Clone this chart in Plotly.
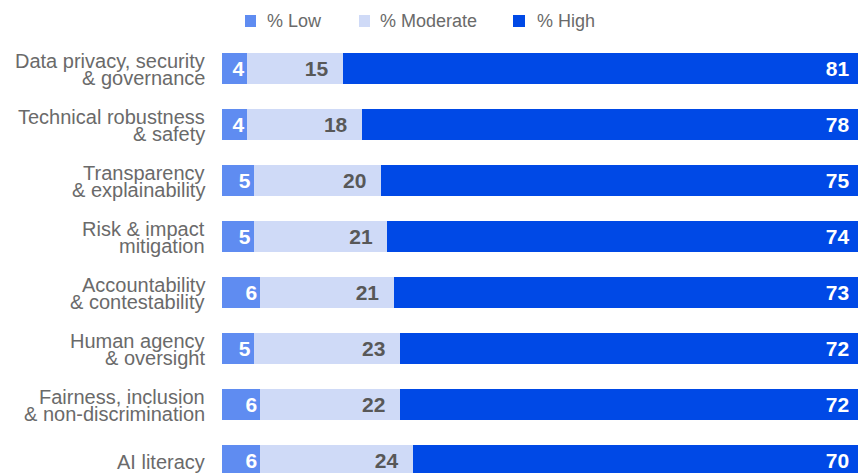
import plotly.graph_objects as go

categories = [
    "Data privacy, security<br>& governance",
    "Technical robustness<br>& safety",
    "Transparency<br>& explainability",
    "Risk & impact<br>mitigation",
    "Accountability<br>& contestability",
    "Human agency<br>& oversight",
    "Fairness, inclusion<br>& non-discrimination",
    "AI literacy",
]
low = [4, 4, 5, 5, 6, 5, 6, 6]
moderate = [15, 18, 20, 21, 21, 23, 22, 24]
high = [81, 78, 75, 74, 73, 72, 72, 70]
series_names = ["% Low", "% Moderate", "% High"]
colors = ["#5f8cf1", "#cfdaf7", "#0049e6"]
text_colors = ["white", "#585858", "white"]

W, H = 858, 473
ML, MR, MT, MB = 222, 0, 40, 0
pitch = 56.0
plot_w = W - ML - MR
plot_h = H - MT - MB


def px_x(px):
    return (px - ML) / plot_w


def px_y(py):
    return 1 - (py - MT) / plot_h


fig = go.Figure()
templates = ["%{x}", "%{x}  ", "%{x} "]
for name, vals, col, tcol, tpl in zip(series_names, [low, moderate, high], colors, text_colors, templates):
    fig.add_trace(go.Bar(
        y=list(range(len(categories))), x=vals, name=name, orientation="h",
        marker=dict(color=col, line=dict(width=0)),
        texttemplate=tpl, textposition="inside", insidetextanchor="end",
        textangle=0, constraintext="none",
        textfont=dict(family="Liberation Sans", size=21, color=tcol, weight="bold"),
        hoverinfo="skip", showlegend=False,
    ))

# category labels as annotations (tight line spacing)
for i, cat in enumerate(categories):
    lines = cat.split("<br>")
    n = len(lines)
    for j, line in enumerate(lines):
        off = (j - (n - 1) / 2) * 17.0
        fig.add_annotation(
            x=0, y=i, xref="x", yref="y", text=line, showarrow=False,
            xanchor="right", yanchor="middle", xshift=-16, yshift=-off - 1.5,
            borderpad=0,
            font=dict(family="Liberation Sans", size=20, color="#6a6a6a"),
        )

# manual legend
leg_sq = [(245, 256), (359, 370), (513, 525)]
leg_tx = [266, 379, 536]
leg_y = 21
for name, col, (x0, x1), tx in zip(series_names, colors, leg_sq, leg_tx):
    fig.add_shape(type="rect", xref="paper", yref="paper",
                  x0=px_x(x0), x1=px_x(x1), y0=px_y(leg_y + 6), y1=px_y(leg_y - 6),
                  fillcolor=col, line=dict(width=0))
    fig.add_annotation(x=px_x(tx), y=px_y(leg_y), xref="paper", yref="paper",
                       text=name, showarrow=False, xanchor="left", yanchor="middle",
                       borderpad=0,
                       font=dict(family="Liberation Sans", size=18, color="#6a6a6a"))

units = plot_h / pitch
fig.update_layout(
    width=W, height=H,
    margin=dict(l=ML, r=MR, t=MT, b=MB, pad=0),
    barmode="stack", bargap=1 - 31 / 56,
    plot_bgcolor="white", paper_bgcolor="white",
    xaxis=dict(range=[0, 100], visible=False, fixedrange=True),
    yaxis=dict(range=[-0.5 + units, -0.5], visible=False, fixedrange=True),
    showlegend=False,
    uniformtext=dict(mode=False),
)

fig.write_html("out.html")
